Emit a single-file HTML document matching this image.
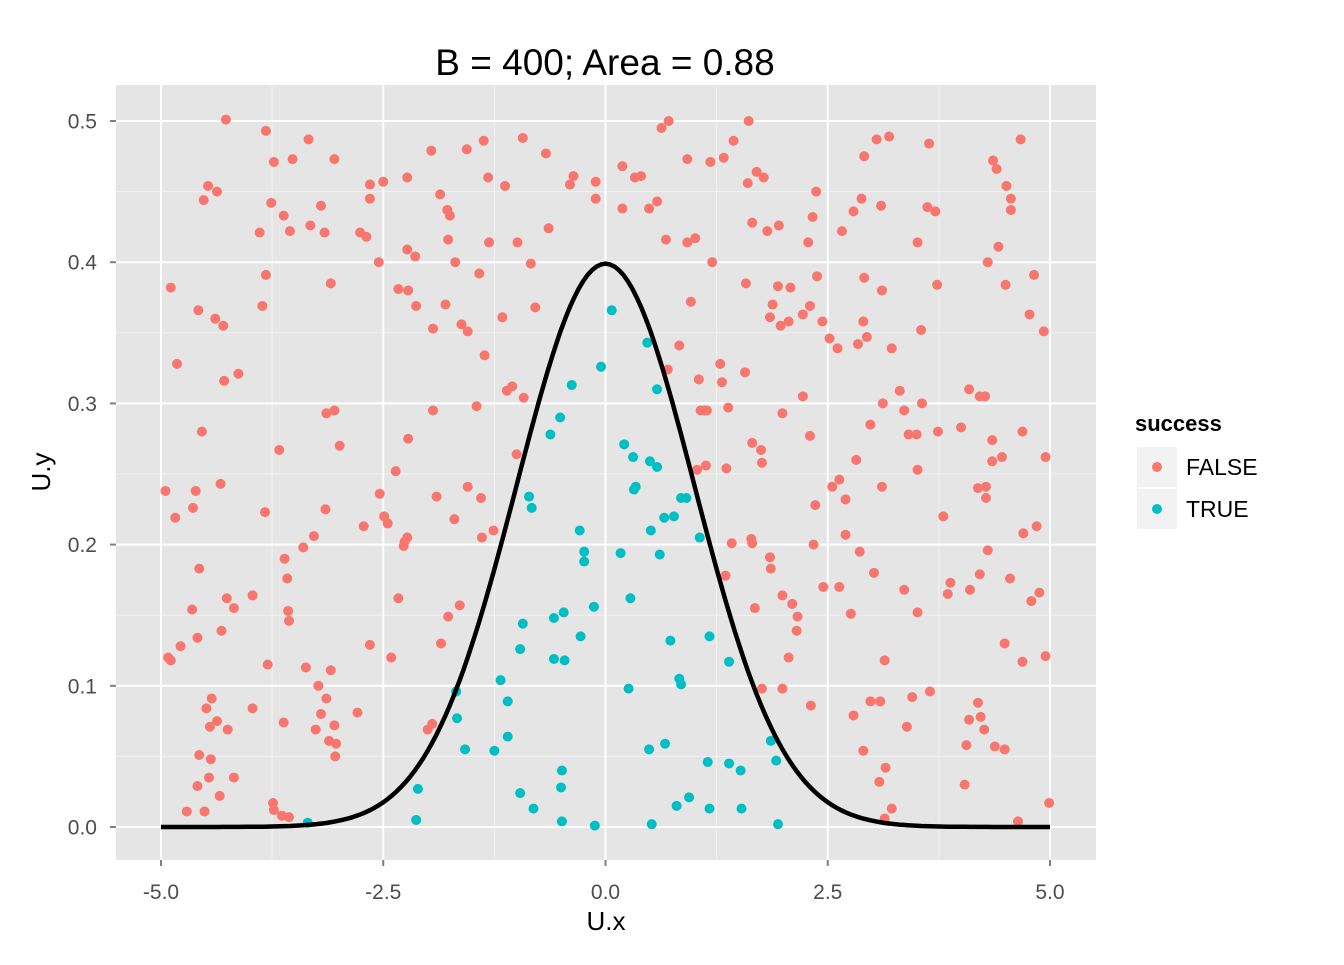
<!DOCTYPE html>
<html><head><meta charset="utf-8"><style>
html,body{margin:0;padding:0;background:#fff;}
svg text{font-family:"Liberation Sans",Arial,sans-serif;}
</style></head><body>
<svg id="chart" width="1344" height="960" xmlns="http://www.w3.org/2000/svg"></svg>
<script>
const redX=[-4.95,-4.89,-4.82,-4.84,-4.92,-4.89,-4.78,-4.71,-4.64,-4.65,-4.61,-4.59,-4.57,-4.58,-4.54,-4.57,-4.59,-4.51,-4.52,-4.47,-4.37,-4.49,-4.46,-4.44,-4.43,-4.45,-4.39,-4.37,-4.30,-4.29,-4.33,-4.32,-4.34,-4.27,-4.26,-4.25,-4.18,-4.18,-4.13,-3.97,-3.97,-3.89,-3.86,-3.83,-3.82,-3.82,-3.80,-3.76,-3.73,-3.74,-3.73,-3.67,-3.62,-3.62,-3.64,-3.56,-3.61,-3.58,-3.57,-3.56,-3.55,-3.52,-3.40,-3.37,-3.34,-3.32,-3.28,-3.26,-3.23,-3.20,-3.20,-3.16,-3.15,-3.14,-3.14,-3.11,-3.09,-3.09,-3.05,-3.05,-3.05,-3.04,-3.03,-2.99,-2.79,-2.76,-2.72,-2.69,-2.65,-2.65,-2.65,-2.55,-2.54,-2.50,-2.49,-2.45,-2.41,-2.36,-2.33,-2.33,-2.27,-2.23,-2.23,-2.26,-2.23,-2.22,-2.22,-2.14,-2.13,-2.00,-1.95,-1.96,-1.94,-1.94,-1.90,-1.86,-1.85,-1.80,-1.78,-1.77,-1.77,-1.75,-1.69,-1.70,-1.64,-1.62,-1.56,-1.55,-1.55,-1.45,-1.40,-1.42,-1.39,-1.37,-1.36,-1.32,-1.31,-1.26,-1.16,-1.13,-1.11,-1.05,-1.00,-0.99,-0.93,-0.92,-0.84,-0.79,-0.67,-0.64,-0.40,-0.36,-0.11,-0.11,0.19,0.19,0.33,0.40,0.49,0.58,0.63,0.71,0.68,0.70,0.83,0.92,0.92,0.96,1.01,1.03,1.05,1.07,1.11,1.13,1.14,1.18,1.20,1.29,1.31,1.33,1.35,1.36,1.38,1.42,1.44,1.57,1.58,1.60,1.61,1.65,1.64,1.65,1.65,1.68,1.70,1.75,1.76,1.78,1.76,1.82,1.85,1.86,1.85,1.88,1.94,1.95,1.97,1.99,1.99,1.99,2.06,2.06,2.08,2.10,2.15,2.16,2.22,2.22,2.28,2.30,2.30,2.31,2.33,2.34,2.36,2.37,2.38,2.44,2.45,2.52,2.55,2.61,2.63,2.63,2.66,2.70,2.70,2.76,2.79,2.79,2.82,2.84,2.86,2.88,2.90,2.91,2.91,2.90,2.94,2.98,2.98,3.02,3.05,3.08,3.09,3.10,3.11,3.11,3.12,3.14,3.15,3.14,3.19,3.22,3.22,3.31,3.36,3.36,3.39,3.41,3.45,3.50,3.51,3.51,3.51,3.55,3.56,3.62,3.64,3.65,3.71,3.73,3.74,3.80,3.85,3.88,4.00,4.04,4.06,4.09,4.10,4.09,4.19,4.19,4.21,4.21,4.22,4.26,4.27,4.28,4.28,4.30,4.30,4.35,4.35,4.36,4.38,4.40,4.42,4.46,4.49,4.49,4.50,4.51,4.55,4.56,4.56,4.64,4.67,4.69,4.69,4.70,4.77,4.79,4.82,4.85,4.88,4.93,4.95,4.95,4.99];
const redY=[0.238,0.382,0.328,0.219,0.120,0.118,0.128,0.011,0.226,0.154,0.238,0.134,0.183,0.366,0.280,0.051,0.029,0.011,0.444,0.454,0.450,0.084,0.035,0.048,0.091,0.071,0.360,0.075,0.355,0.316,0.243,0.139,0.022,0.501,0.162,0.069,0.155,0.035,0.321,0.164,0.084,0.421,0.369,0.223,0.493,0.391,0.115,0.442,0.471,0.017,0.012,0.267,0.433,0.074,0.008,0.007,0.190,0.176,0.153,0.146,0.422,0.473,0.198,0.113,0.487,0.426,0.206,0.069,0.100,0.080,0.440,0.421,0.225,0.293,0.091,0.061,0.385,0.111,0.473,0.295,0.072,0.050,0.059,0.270,0.081,0.421,0.213,0.418,0.455,0.445,0.129,0.400,0.236,0.457,0.220,0.215,0.120,0.252,0.381,0.162,0.199,0.460,0.409,0.202,0.205,0.275,0.380,0.404,0.369,0.069,0.073,0.479,0.353,0.295,0.234,0.448,0.130,0.370,0.437,0.149,0.416,0.433,0.400,0.218,0.157,0.356,0.480,0.241,0.351,0.298,0.233,0.392,0.205,0.486,0.334,0.460,0.414,0.210,0.361,0.454,0.309,0.312,0.264,0.414,0.488,0.304,0.399,0.368,0.477,0.424,0.455,0.461,0.457,0.445,0.468,0.438,0.460,0.461,0.438,0.443,0.495,0.500,0.416,0.324,0.341,0.473,0.414,0.372,0.417,0.253,0.317,0.295,0.295,0.256,0.295,0.471,0.400,0.328,0.315,0.474,0.178,0.254,0.297,0.201,0.486,0.322,0.385,0.456,0.500,0.428,0.204,0.201,0.272,0.155,0.464,0.267,0.258,0.460,0.098,0.422,0.191,0.183,0.361,0.370,0.383,0.426,0.355,0.293,0.164,0.098,0.358,0.120,0.382,0.158,0.139,0.149,0.305,0.363,0.414,0.369,0.277,0.086,0.432,0.200,0.228,0.450,0.390,0.358,0.170,0.346,0.241,0.339,0.246,0.170,0.422,0.232,0.207,0.151,0.436,0.079,0.260,0.342,0.195,0.445,0.054,0.475,0.389,0.358,0.347,0.285,0.089,0.180,0.487,0.032,0.089,0.440,0.380,0.241,0.300,0.118,0.042,0.006,0.489,0.339,0.013,0.309,0.168,0.295,0.071,0.278,0.092,0.278,0.414,0.253,0.152,0.352,0.300,0.439,0.484,0.096,0.436,0.384,0.280,0.220,0.165,0.173,0.283,0.030,0.058,0.310,0.168,0.076,0.088,0.240,0.179,0.305,0.078,0.069,0.305,0.241,0.233,0.400,0.196,0.274,0.259,0.472,0.057,0.466,0.411,0.262,0.055,0.130,0.384,0.454,0.176,0.445,0.437,0.004,0.487,0.280,0.117,0.208,0.363,0.160,0.391,0.213,0.166,0.351,0.262,0.121,0.017];
const tealX=[-3.35,-2.11,-2.13,-1.68,-1.67,-1.58,-1.25,-1.18,-1.10,-1.10,-0.96,-0.96,-0.93,-0.86,-0.83,-0.81,-0.62,-0.58,-0.58,-0.51,-0.50,-0.49,-0.49,-0.47,-0.46,-0.38,-0.29,-0.24,-0.24,-0.28,-0.13,-0.12,-0.05,0.07,0.17,0.21,0.26,0.28,0.31,0.32,0.34,0.47,0.49,0.50,0.51,0.52,0.58,0.58,0.61,0.66,0.67,0.73,0.77,0.80,0.83,0.85,0.85,0.91,0.94,1.06,1.15,1.17,1.17,1.39,1.39,1.52,1.53,1.86,1.92,1.94];
const tealY=[0.003,0.027,0.005,0.096,0.077,0.055,0.054,0.104,0.089,0.064,0.126,0.024,0.144,0.234,0.226,0.013,0.278,0.148,0.119,0.290,0.028,0.040,0.004,0.152,0.118,0.313,0.210,0.195,0.188,0.135,0.156,0.001,0.326,0.366,0.194,0.271,0.098,0.162,0.262,0.239,0.241,0.343,0.055,0.259,0.210,0.002,0.310,0.255,0.193,0.219,0.059,0.132,0.220,0.015,0.105,0.101,0.233,0.233,0.021,0.205,0.046,0.135,0.013,0.045,0.117,0.040,0.013,0.061,0.047,0.002];
const xTicks=[-5,-2.5,0,2.5,5];
const xTickLabels=["-5.0","-2.5","0.0","2.5","5.0"];
const yTicks=[0,0.1,0.2,0.3,0.4,0.5];
const yTickLabels=["0.0","0.1","0.2","0.3","0.4","0.5"];

const NS="http://www.w3.org/2000/svg";
const svg=document.getElementById('chart');
const PL=116,PR=1096,PT=85,PB=860;
const sx=v=>605.5+v*88.9;
const sy=v=>827-v*1412;
function mk(t,a,parent){const e=document.createElementNS(NS,t);for(const k in a)e.setAttribute(k,a[k]);(parent||svg).appendChild(e);return e;}

const panel=mk('rect',{x:PL,y:PT,width:PR-PL,height:PB-PT,fill:'#e5e5e5'});


const grid=mk('g',{});


for(let i=0;i<xTicks.length-1;i++){const m=(xTicks[i]+xTicks[i+1])/2;mk('line',{x1:sx(m),x2:sx(m),y1:PT,y2:PB,stroke:'#f2f2f2','stroke-width':1},grid);}
for(let i=0;i<yTicks.length-1;i++){const m=(yTicks[i]+yTicks[i+1])/2;mk('line',{x1:PL,x2:PR,y1:sy(m),y2:sy(m),stroke:'#f2f2f2','stroke-width':1},grid);}
xTicks.forEach(v=>mk('line',{x1:sx(v),x2:sx(v),y1:PT,y2:PB,stroke:'#fff','stroke-width':2},grid));
yTicks.forEach(v=>mk('line',{x1:PL,x2:PR,y1:sy(v),y2:sy(v),stroke:'#fff','stroke-width':2},grid));

const pts=mk('g',{});


redX.forEach((x,i)=>{const c=mk('circle',{cx:sx(x),cy:sy(redY[i]),r:5,fill:'#F8766D'},pts);

});
tealX.forEach((x,i)=>{const c=mk('circle',{cx:sx(x),cy:sy(tealY[i]),r:5,fill:'#00BFC4'},pts);

});

let d='';
for(let i=0;i<=200;i++){const x=-5+i*0.05;const y=Math.exp(-x*x/2)/Math.sqrt(2*Math.PI);d+=(i?'L':'M')+sx(x).toFixed(1)+','+sy(y).toFixed(1);}
const curve=mk('path',{d:d,fill:'none',stroke:'#000','stroke-width':4.5});



xTicks.forEach((v,i)=>{mk('line',{x1:sx(v),x2:sx(v),y1:PB,y2:PB+6,stroke:'#7f7f7f','stroke-width':2});
const t=mk('text',{x:sx(v),y:899,'text-anchor':'middle','font-size':21,fill:'#4d4d4d'});t.textContent=xTickLabels[i];

});
yTicks.forEach((v,i)=>{mk('line',{x1:PL-6,x2:PL,y1:sy(v),y2:sy(v),stroke:'#7f7f7f','stroke-width':2});
const t=mk('text',{x:97,y:sy(v)+7.5,'text-anchor':'end','font-size':21,fill:'#4d4d4d'});t.textContent=yTickLabels[i];

});
</script>
<svg style="position:absolute;left:0;top:0" width="1344" height="960" xmlns="http://www.w3.org/2000/svg">
<text x="605" y="75" text-anchor="middle" font-size="37" fill="#000">B = 400; Area = 0.88</text>
<text x="606" y="930" text-anchor="middle" font-size="26" fill="#000">U.x</text>
<text x="50" y="472" text-anchor="middle" font-size="26" fill="#000" transform="rotate(-90 50 472)">U.y</text>
<g>
<text x="1135" y="431" font-size="22" font-weight="bold" fill="#000">success</text>
<rect x="1136" y="446" width="42" height="42" fill="#f2f2f2" stroke="#fff" stroke-width="2"/>
<circle cx="1157" cy="467" r="5" fill="#F8766D"/>
<text x="1186" y="475" font-size="23" fill="#000">FALSE</text>
<rect x="1136" y="488" width="42" height="42" fill="#f2f2f2" stroke="#fff" stroke-width="2"/>
<circle cx="1157" cy="509" r="5" fill="#00BFC4"/>
<text x="1186" y="517" font-size="23" fill="#000">TRUE</text>
</g>
</svg>
</body></html>
